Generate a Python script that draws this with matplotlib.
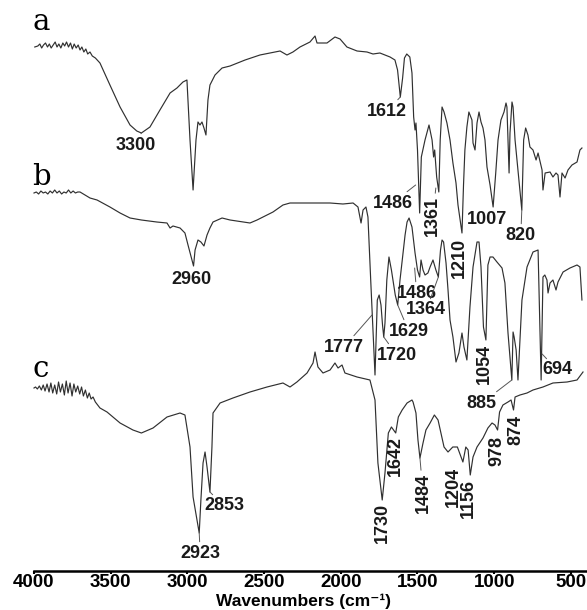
import numpy as np
import matplotlib
matplotlib.use("Agg")
import matplotlib.pyplot as plt
from matplotlib.transforms import offset_copy

plt.rcParams["font.family"] = ["Liberation Sans", "DejaVu Sans"]

# FTIR spectra, transmittance in arbitrary units (each trace on its own scale)
wn_a = [3995, 3975, 3962, 3950, 3938, 3925, 3912, 3900, 3888, 3875, 3862, 3850,
        3838, 3825, 3812, 3800, 3788, 3775, 3762, 3750, 3738, 3725, 3712, 3700,
        3688, 3675, 3662, 3650, 3635, 3620, 3600, 3570, 3505, 3439, 3374, 3330,
        3300, 3244, 3179, 3113, 3068, 3029, 3003, 2983, 2963, 2944, 2931, 2918,
        2905, 2892, 2879, 2866, 2853, 2820, 2774, 2722, 2624, 2527, 2396, 2351,
        2312, 2266, 2201, 2168, 2155, 2090, 2038, 2005, 1960, 1894, 1829, 1790,
        1745, 1679, 1647, 1630, 1612, 1597, 1585, 1570, 1550, 1536, 1525, 1516,
        1510, 1500, 1486, 1475, 1465, 1451, 1425, 1405, 1395, 1388, 1375, 1361,
        1352, 1340, 1327, 1308, 1288, 1269, 1249, 1236, 1210, 1200, 1191, 1178,
        1165, 1145, 1138, 1125, 1112, 1099, 1086, 1073, 1060, 1047, 1027, 1007,
        990, 975, 956, 936, 923, 917, 903, 897, 884, 877, 864, 820, 808, 795,
        780, 767, 747, 727, 714, 688, 682, 668, 636, 617, 597, 584, 571, 558,
        538, 519, 493, 460, 441, 428]
t_a = [193, 194, 196, 192, 195, 197, 193, 196, 192, 195, 198, 193,
       196, 192, 197, 194, 198, 193, 197, 191, 196, 192, 195, 190,
       193, 188, 191, 186, 188, 184, 182, 177, 155, 133, 115, 109,
       107, 113, 130, 147, 152, 158, 160, 100, 50, 100, 118, 115,
       118, 112, 105, 140, 155, 165, 172, 174, 180, 185, 189, 185,
       188, 193, 198, 204, 197, 197, 203, 201, 193, 189, 188, 186,
       187, 183, 180, 170, 143, 162, 182, 186, 183, 167, 123, 110,
       117, 90, 27, 83, 90, 100, 115, 100, 83, 90, 63, 48,
       100, 133, 128, 117, 100, 77, 57, 35, 7, 55, 90, 113,
       128, 120, 97, 90, 117, 128, 118, 112, 100, 73, 55, 33,
       67, 100, 120, 128, 137, 133, 67, 107, 138, 133, 100, 30, 100, 112,
       105, 93, 90, 80, 87, 70, 50, 67, 68, 63, 67, 65, 43, 67,
       62, 70, 75, 78, 90, 92]

wn_b = [4000, 3985, 3970, 3955, 3940, 3925, 3910, 3895, 3880, 3865, 3850, 3835,
        3820, 3805, 3790, 3775, 3760, 3745, 3730, 3715, 3700, 3668, 3635, 3589,
        3505, 3439, 3374, 3300, 3200, 3133, 3113, 3094, 3048, 3016, 2996, 2960,
        2950, 2931, 2912, 2892, 2872, 2853, 2833, 2774, 2722, 2592, 2546, 2442,
        2377, 2331, 2266, 2155, 2070, 1986, 1920, 1888, 1868, 1855, 1836, 1823,
        1805, 1777, 1762, 1750, 1738, 1728, 1720, 1712, 1700, 1686, 1670, 1645,
        1629, 1614, 1594, 1581, 1568, 1555, 1536, 1516, 1500, 1486, 1477, 1464,
        1451, 1432, 1418, 1399, 1380, 1364, 1350, 1340, 1330, 1314, 1301, 1288,
        1269, 1249, 1230, 1210, 1197, 1178, 1158, 1138, 1112, 1099, 1086, 1070,
        1054, 1041, 1027, 1008, 982, 949, 930, 910, 885, 877, 870, 857,
        845, 835, 819, 786, 747, 714, 694, 682, 670, 656, 649, 636,
        617, 597, 584, 551, 506, 460, 441, 428]
t_b = [189, 190, 188, 191, 189, 190, 188, 191, 189, 192, 189, 191,
       188, 190, 189, 192, 189, 191, 189, 190, 190, 187, 184, 182,
       175, 169, 164, 162, 160, 159, 154, 156, 154, 149, 137, 116,
       132, 142, 140, 136, 147, 154, 160, 164, 162, 159, 162, 170,
       177, 179, 179, 179, 179, 178, 179, 175, 159, 172, 175, 165,
       102, 7, 82, 87, 77, 57, 45, 59, 102, 125, 112, 87,
       77, 102, 129, 147, 160, 164, 155, 129, 112, 105, 122, 112,
       107, 109, 115, 122, 112, 105, 132, 142, 140, 119, 92, 62,
       45, 20, 29, 49, 35, 22, 75, 115, 140, 140, 115, 55,
       42, 117, 125, 125, 120, 114, 99, 49, 2, 50, 45, 32,
       2, 32, 82, 115, 130, 132, 2, 105, 107, 102, 89, 99,
       102, 92, 100, 110, 114, 117, 115, 82]

wn_c = [4000, 3990, 3978, 3965, 3952, 3940, 3928, 3915, 3902, 3890, 3878, 3865,
        3852, 3840, 3828, 3815, 3802, 3790, 3778, 3765, 3752, 3740, 3728, 3715,
        3702, 3690, 3678, 3665, 3652, 3640, 3628, 3615, 3600, 3570, 3524, 3439,
        3355, 3300, 3224, 3133, 3048, 3016, 2983, 2963, 2923, 2912, 2898, 2885,
        2872, 2853, 2840, 2833, 2787, 2703, 2592, 2481, 2377, 2331, 2286, 2220,
        2181, 2168, 2149, 2116, 2070, 2038, 2018, 1992, 1973, 1894, 1810, 1777,
        1758, 1730, 1712, 1690, 1670, 1642, 1625, 1600, 1568, 1536, 1529, 1510,
        1497, 1484, 1464, 1445, 1418, 1390, 1366, 1327, 1301, 1270, 1240, 1204,
        1185, 1170, 1156, 1138, 1112, 1073, 1041, 1014, 995, 978, 965, 943,
        910, 890, 874, 864, 832, 786, 747, 682, 617, 525, 460, 421]
t_c = [147, 148, 146, 149, 145, 150, 144, 151, 143, 152, 142, 150,
       141, 153, 143, 151, 140, 154, 142, 152, 139, 151, 143, 149,
       141, 148, 139, 145, 137, 142, 136, 138, 133, 127, 123, 112,
       105, 102, 107, 118, 122, 120, 88, 38, 2, 35, 72, 83,
       68, 43, 88, 122, 132, 137, 143, 148, 152, 148, 153, 162,
       172, 183, 168, 162, 165, 172, 167, 170, 162, 158, 155, 135,
       72, 35, 62, 102, 108, 102, 118, 125, 132, 135, 133, 122,
       95, 77, 92, 105, 112, 120, 115, 88, 83, 88, 88, 73,
       88, 85, 60, 78, 88, 97, 107, 112, 110, 105, 123, 130,
       133, 135, 125, 138, 140, 142, 145, 148, 152, 153, 155, 163]

spectra = {"a": (wn_a, t_a), "b": (wn_b, t_b), "c": (wn_c, t_c)}

# marked bands per trace
bands_a = [3300, 1612, 1486, 1361, 1210, 1007, 820]
bands_b = [2960, 1777, 1720, 1629, 1486, 1364, 1054, 885, 694]
bands_c = [2923, 2853, 1730, 1642, 1484, 1204, 1156, 978, 874]

# vertical stacking of the traces (pixels above the axis)
shift = {"a": 331, "b": 189, "c": 36}

# label placement: text offset (px), rotation, leader line, leader tip offset (px)
label_style = {
    ("a", 3300): (-6, -12, 0, True, (0, 0)),
    ("a", 1612): (-13, -14, 0, True, (0, 0)),
    ("a", 1486): (-27, 10, 0, True, (-4, 28)),
    ("a", 1361): (-6, -24, 90, True, (-3, 4)),
    ("a", 1210): (-3, -25, 90, False, (0, 0)),
    ("a", 1007): (-6, -13, 0, False, (0, 0)),
    ("a", 820): (-1, -25, 0, True, (0, 0)),
    ("b", 2960): (-2, -14, 0, False, (0, 0)),
    ("b", 1777): (-31, 28, 0, True, (-3, 60)),
    ("b", 1720): (13, -18, 0, True, (0, 0)),
    ("b", 1629): (11, -26, 0, True, (0, 0)),
    ("b", 1486): (-3, -16, 0, True, (-5, 9)),
    ("b", 1364): (-12, -33, 0, True, (0, 0)),
    ("b", 1054): (-2, -24, 90, False, (0, 0)),
    ("b", 885): (-30, -23, 0, True, (0, 0)),
    ("b", 694): (16, 10, 0, True, (1, 26)),
    ("c", 2923): (1, -20, 0, True, (0, 0)),
    ("c", 2853): (14, -14, 0, True, (0, 0)),
    ("c", 1730): (0, -23, 90, False, (0, 0)),
    ("c", 1642): (0, -23, 90, False, (0, 0)),
    ("c", 1484): (3, -35, 90, True, (0, 0)),
    ("c", 1204): (-10, -25, 90, False, (0, 0)),
    ("c", 1156): (-2, -24, 90, False, (0, 0)),
    ("c", 978): (-1, -21, 90, False, (0, 0)),
    ("c", 874): (2, -20, 90, False, (0, 0)),
}

W, H = 587, 610
fig = plt.figure(figsize=(W / 100, H / 100), dpi=100)
ax = fig.add_axes([34 / W, 39 / H, (W - 34) / W, 571 / H])

for name, (wn, t) in spectra.items():
    ax.plot(wn, np.array(t) + shift[name], color="#303030", lw=0.85,
            clip_on=False)

ax.set_xlim(4000, 395)
ax.set_ylim(0, 571)
for s in ["left", "top", "right"]:
    ax.spines[s].set_visible(False)
ax.spines["bottom"].set_linewidth(1.8)
ax.set_yticks([])
ax.set_xticks([4000, 3500, 3000, 2500, 2000, 1500, 1000, 500])
ax.tick_params(axis="x", direction="out", length=2.5, width=1.5, pad=0,
               labelsize=13.5)
for lab in ax.get_xticklabels():
    lab.set_fontweight("bold")

fig.text(303 / W, 1 - 606 / H, "Wavenumbers (cm\u207b\u00b9)", ha="center",
         va="baseline", fontsize=12.5, fontweight="bold")

for letter, (x, y) in {"a": (32, 30), "b": (32, 185), "c": (33, 377)}.items():
    fig.text(x / W, 1 - y / H, letter, family="DejaVu Serif", fontsize=21,
             ha="left", va="baseline")

for name, bands in [("a", bands_a), ("b", bands_b), ("c", bands_c)]:
    wn, t = spectra[name]
    for band in bands:
        y = np.interp(band, wn[::-1], t[::-1]) + shift[name]
        dx, dy, rot, leader, (tx, ty) = label_style[(name, band)]
        tr = offset_copy(ax.transData, fig=fig, x=tx, y=ty, units="dots")
        props = None
        if leader:
            props = dict(arrowstyle="-", color="#555555", lw=0.7,
                         shrinkA=0, shrinkB=0)
        ax.annotate(str(band), xy=(band, y), xycoords=tr,
                    xytext=(dx - tx, dy - ty), textcoords="offset pixels",
                    ha="center", va="center", rotation=rot, fontsize=13,
                    fontweight="bold", color="#1a1a1a", arrowprops=props,
                    annotation_clip=False)

fig.savefig("out.png", dpi=100)
